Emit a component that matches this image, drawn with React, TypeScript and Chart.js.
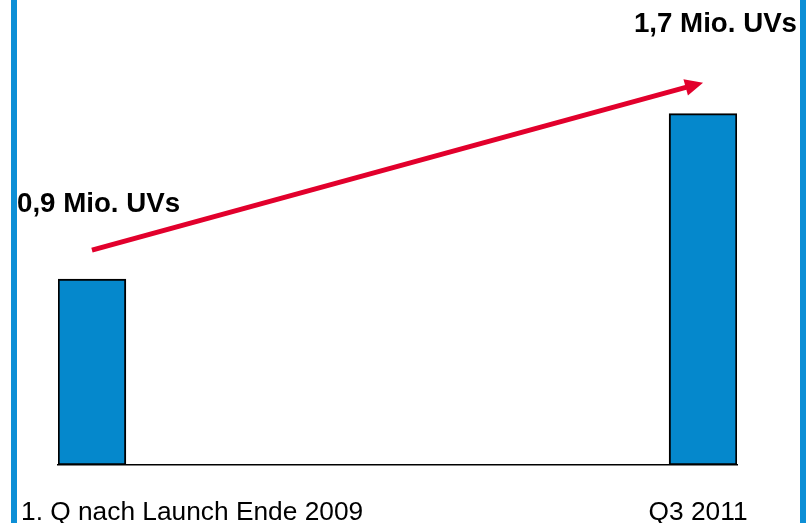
import React, { useEffect, useRef } from "react";
import { Chart, registerables } from "chart.js";

Chart.register(...registerables);

// ---- data ----
const categories = ["1. Q nach Launch Ende 2009", "Q3 2011"];
const uniqueVisitors = [0.9, 1.7]; // Mio. UVs
const valueLabels = ["0,9 Mio. UVs", "1,7 Mio. UVs"];
const arrowValues = [1.04, 1.85]; // arrow start / end heights (Mio.)
const yRange = [0, 2.25];

// layout constants
const GAP_SLOTS = 8;
const BLUE = "#0d8fd6";
const BAR_BLUE = "#0588cc";
const RED = "#e2002c";
const FONT = "'Liberation Sans', Arial, sans-serif";

const slotLabels = [categories[0], ...Array(GAP_SLOTS).fill(""), categories[1]];
const slotValues = [uniqueVisitors[0], ...Array(GAP_SLOTS).fill(null), uniqueVisitors[1]];

const overlayPlugin = {
  id: "overlay",
  afterDatasetsDraw(chart: any) {
    const { ctx, chartArea, scales } = chart;
    const xs = scales.x;
    const ys = scales.y;
    const lastIdx = slotLabels.length - 1;
    const x0 = xs.getPixelForValue(0);
    const x1 = xs.getPixelForValue(lastIdx);
    const y0 = ys.getPixelForValue(arrowValues[0]);
    const y1 = ys.getPixelForValue(arrowValues[1]);

    // arrow
    const ang = Math.atan2(y1 - y0, x1 - x0);
    const headLen = 18;
    const headHalf = 8.5;
    const bx = x1 - Math.cos(ang) * headLen;
    const by = y1 - Math.sin(ang) * headLen;
    ctx.save();
    ctx.strokeStyle = RED;
    ctx.fillStyle = RED;
    ctx.lineWidth = 5;
    ctx.lineCap = "butt";
    ctx.beginPath();
    ctx.moveTo(x0, y0);
    ctx.lineTo(bx + Math.cos(ang) * 2, by + Math.sin(ang) * 2);
    ctx.stroke();
    ctx.beginPath();
    ctx.moveTo(x1, y1);
    ctx.lineTo(bx - Math.sin(ang) * headHalf, by + Math.cos(ang) * headHalf);
    ctx.lineTo(bx + Math.sin(ang) * headHalf, by - Math.cos(ang) * headHalf);
    ctx.closePath();
    ctx.fill();

    // value labels
    ctx.fillStyle = "#000";
    ctx.font = `bold 27.7px ${FONT}`;
    ctx.textBaseline = "alphabetic";
    ctx.textAlign = "left";
    ctx.fillText(valueLabels[0], chartArea.left - 41, 212);
    ctx.textAlign = "right";
    ctx.fillText(valueLabels[1], chartArea.right + 60, 32);

    // category labels
    ctx.font = `26.3px ${FONT}`;
    ctx.textAlign = "left";
    ctx.fillText(categories[0], chartArea.left - 37, 520);
    ctx.textAlign = "center";
    ctx.fillText(categories[1], x1 - 5, 520);
    ctx.restore();
  },
};

export default function App() {
  const ref = useRef<HTMLCanvasElement>(null);

  useEffect(() => {
    if (!ref.current) return;
    const chart = new Chart(ref.current, {
      type: "bar",
      data: {
        labels: slotLabels,
        datasets: [
          {
            data: slotValues as any,
            backgroundColor: BAR_BLUE,
            borderColor: "#000",
            borderWidth: 2,
            borderSkipped: false,
            barPercentage: 1,
            categoryPercentage: 1,
          },
        ],
      },
      options: {
        animation: false,
        responsive: true,
        maintainAspectRatio: false,
        layout: { padding: { left: 58, right: 75, top: 0, bottom: 58 } },
        plugins: {
          legend: { display: false },
          tooltip: { enabled: false },
          title: { display: false },
        },
        scales: {
          x: {
            type: "category",
            offset: true,
            ticks: { display: false },
            grid: { display: false, drawTicks: false },
            border: { display: true, color: "#000", width: 1.5 },
          },
          y: {
            display: false,
            min: yRange[0],
            max: yRange[1],
          },
        },
      },
      plugins: [overlayPlugin],
    });
    return () => chart.destroy();
  }, []);

  return (
    <div
      style={{
        position: "fixed",
        left: 0,
        top: 0,
        width: 812,
        height: 523,
        background: "#fff",
        overflow: "hidden",
      }}
    >
      <canvas ref={ref} style={{ position: "absolute", left: 0, top: 0, width: 812, height: 523 }} />
      <div
        style={{
          position: "absolute",
          left: 11,
          top: 0,
          width: 783,
          height: 523,
          borderLeft: `6px solid ${BLUE}`,
          borderRight: `6px solid ${BLUE}`,
          pointerEvents: "none",
        }}
      />
    </div>
  );
}
